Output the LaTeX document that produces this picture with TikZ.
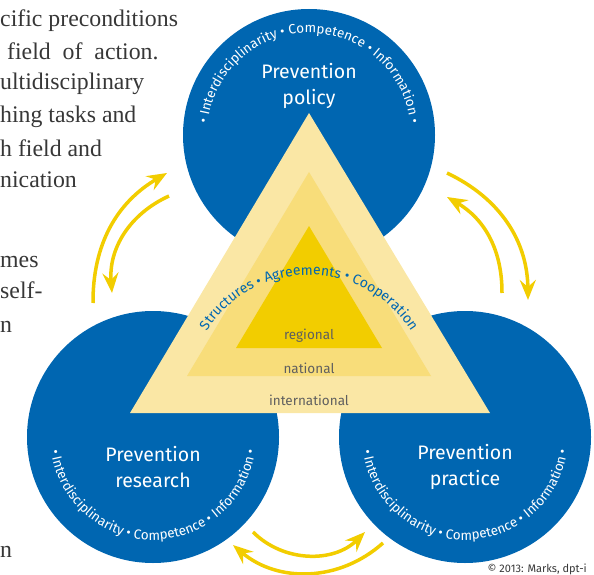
\documentclass[tikz,border=0pt]{standalone}
\usepackage{fontspec}
\setmainfont{Liberation Serif}
\setsansfont{Fira Sans}
\usetikzlibrary{positioning}
\usetikzlibrary{arrows.meta}
\usetikzlibrary{decorations.text}

\definecolor{fieldblue}{RGB}{0,102,177}
\definecolor{levelpale}{RGB}{250,231,165}
\definecolor{levelmid}{RGB}{248,221,122}
\definecolor{leveldeep}{RGB}{242,205,0}
\definecolor{levelgray}{RGB}{95,95,95}
\definecolor{bodygray}{RGB}{55,55,55}

\newcommand{\ringfont}{\sffamily\fontsize{13.5}{13.5}\selectfont}
\newcommand{\bandfont}{\sffamily\fontsize{14}{14}\selectfont}

\begin{document}
\begin{tikzpicture}[x = 1pt, y = 1pt,
	field/.style = {circle, fill = fieldblue, minimum size = 252pt, inner sep = 0pt},
	fieldname/.style = {text = white, font = \sffamily\fontsize{19.5}{26}\selectfont, align = center},
	level/.style = {text = levelgray, font = \sffamily\fontsize{13.5}{13.5}\selectfont},
	body/.style = {text = bodygray, font = \rmfamily\fontsize{23.8}{23.8}\selectfont, anchor = base west, inner sep = 0pt},
	flow/.style = {draw = leveldeep, line width = 3.5pt, -{Stealth[length = 20pt, width = 16pt, inset = 7pt]}},
	ring/.style = {decorate, decoration = {text along path, text align = center,
		text = {|\ringfont\color{white}|• Interdisciplinarity • Competence • Information •}}}
]
\useasboundingbox (0, 0) rectangle (594, 574);

% text of the page, cut at the left edge
\node [body] (b1) at (0, 547) {cific preconditions};
\node [body] (b2) at (7, 514) {field~~of~~action.};
\node [body] (b3) at (0, 484) {ultidisciplinary};
\node [body] (b4) at (0, 451) {hing tasks and};
\node [body] (b5) at (0, 417) {h field and};
\node [body] (b6) at (0, 386) {nication};
\node [body] (b7) at (0, 307) {mes};
\node [body] (b8) at (0, 276) {self-};
\node [body] (b9) at (0, 242) {n};
\node [body] (b10) at (0, 17) {n};

% the three fields
\node [field] (policy) at (309, 439) {};
\node [field] (research) at (153, 137) {};
\node [field] (practice) at (465, 137) {};

% the levels
\fill [levelpale] (130, 161) -- (490, 161) -- (309, 461) -- cycle;
\fill [levelmid] (187, 198) -- (431, 198) -- (309, 402) -- cycle;
\fill [leveldeep] (236, 226) -- (382, 226) -- (309, 348) -- cycle;
\node [level] (regional) at (309, 238) {regional};
\node [level] (national) at (309, 206) {national};
\node [level] (international) at (309, 174) {international};
\path [decorate, decoration = {text along path, text align = center,
	text = {|\bandfont\color{fieldblue}|Structures • Agreements • Cooperation}}]
	(309, 178) ++(150 : 121) arc [start angle = 150, end angle = 30, radius = 121];

% names and rings
\node [fieldname] (policyname) at (309, 488) {Prevention\\policy};
\node [fieldname] (researchname) at (153, 107) {Prevention\\research};
\node [fieldname] (practicename) at (465, 107) {Prevention\\practice};
\path [ring] (policy.center) ++(176 : 102) arc [start angle = 176, end angle = 4, radius = 102];
\path [ring] (research.center) ++(184 : 103) arc [start angle = 184, end angle = 356, radius = 103];
\path [ring] (practice.center) ++(184 : 103) arc [start angle = 184, end angle = 356, radius = 103];

% exchange between the fields
\coordinate (lo1) at (93, 271);
\coordinate (lo2) at (167, 401);
\coordinate (li1) at (169, 378);
\coordinate (li2) at (112, 281);
\coordinate (ro1) at (447, 401);
\coordinate (ro2) at (528, 274);
\coordinate (ri1) at (502, 281);
\coordinate (ri2) at (447, 377);
\coordinate (bu1) at (253, 42);
\coordinate (bu2) at (365, 42);
\coordinate (bl1) at (383, 31);
\coordinate (bl2) at (233, 29);
\draw [flow] (lo1) to [bend left = 30] (lo2);
\draw [flow] (li1) to [bend right = 35] (li2);
\draw [flow] (ro1) to [bend left = 32] (ro2);
\draw [flow] (ri1) to [bend right = 30] (ri2);
\draw [flow] (bu1) to [bend right = 45] (bu2);
\draw [flow] (bl1) to [bend left = 41] (bl2);

\node [text = bodygray, font = \sffamily\fontsize{11}{11}\selectfont, anchor = base east, inner sep = 0pt] (credit) at (587, 2) {© 2013: Marks, dpt-i};
\end{tikzpicture}
\end{document}
